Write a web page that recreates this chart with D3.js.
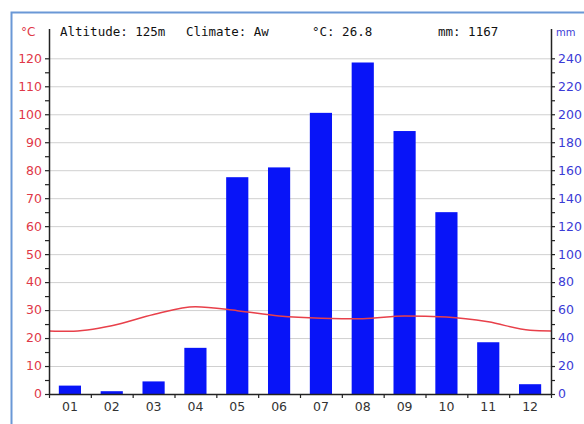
<!DOCTYPE html>
<html lang="en">
<head>
    <meta charset="UTF-8">
    <title>Climate chart</title>
    <script src="https://d3js.org/d3.v7.min.js"></script>
    <style>
        body { margin: 0; padding: 0; background: #fff; }
        svg { display: block; }
    </style>
</head>
<body>
    <div id="chart"></div>
    <script>
        // data
        const months = ["01", "02", "03", "04", "05", "06", "07", "08", "09", "10", "11", "12"];
        const precip = [6, 2, 9, 33, 155, 162, 201, 237, 188, 130, 37, 7];          // mm
        const temp = [22.4, 24.4, 28.4, 31.2, 29.8, 27.9, 27.1, 26.9, 27.9, 27.5, 25.8, 22.8]; // °C
        const tempTicks = [0, 10, 20, 30, 40, 50, 60, 70, 80, 90, 100, 110, 120];
        const mmTicks = [0, 20, 40, 60, 80, 100, 120, 140, 160, 180, 200, 220, 240];
        const header = { altitude: "125m", climate: "Aw", meanTemp: "26.8", totalMm: "1167" };

        const width = 584, height = 424;
        const plotLeft = 49, plotRight = 551, plotBottom = 394, plotTop = 58.3;

        const svg = d3.select("#chart").append("svg")
            .attr("width", width)
            .attr("height", height);

        // frame (blue border of the image)
        svg.append("path")
            .attr("d", `M11.5,${height} L11.5,12.5 L${width},12.5`)
            .attr("fill", "none")
            .attr("stroke", "#6a98d6")
            .attr("stroke-width", 2);

        const x = d3.scaleBand().domain(months).range([plotLeft, plotRight])
            .paddingInner(0.47).paddingOuter(0.235);
        const yT = d3.scaleLinear().domain([0, 120]).range([plotBottom, plotTop]);
        const yP = d3.scaleLinear().domain([0, 240]).range([plotBottom, plotTop]);

        const red = "#e03848", blue = "#3b3bd6";

        // grid lines
        svg.append("g").selectAll("line")
            .data(tempTicks.filter(d => d > 0))
            .join("line")
            .attr("x1", plotLeft).attr("x2", plotRight)
            .attr("y1", d => yT(d) + 0.5).attr("y2", d => yT(d) + 0.5)
            .attr("stroke", "#d0d0d0").attr("stroke-width", 1);

        // bars
        svg.append("g").selectAll("rect")
            .data(precip)
            .join("rect")
            .attr("x", (d, i) => x(months[i]))
            .attr("width", x.bandwidth())
            .attr("y", d => yP(d))
            .attr("height", d => plotBottom - yP(d))
            .attr("fill", "#0814f8");

        // temperature line, wrapped on both ends and clipped to plot area
        svg.append("clipPath").attr("id", "plotclip")
            .append("rect").attr("x", plotLeft).attr("y", 20)
            .attr("width", plotRight - plotLeft).attr("height", plotBottom - 20);
        const step = x.step();
        const pts = temp.map((t, i) => [x(months[i]) + x.bandwidth() / 2, yT(t)]);
        pts.unshift([pts[0][0] - step, yT(temp[11])]);
        pts.push([pts[12][0] + step, yT(temp[0])]);
        svg.append("path")
            .attr("clip-path", "url(#plotclip)")
            .attr("d", d3.line().curve(d3.curveMonotoneX)(pts))
            .attr("fill", "none")
            .attr("stroke", "#e8404a")
            .attr("stroke-width", 1.5);

        // left axis
        const leftAxis = svg.append("g").attr("transform", `translate(${plotLeft},0)`);
        leftAxis.append("line").attr("x1", 0.5).attr("x2", 0.5).attr("y1", 29).attr("y2", plotBottom)
            .attr("stroke", "#222").attr("stroke-width", 1.5);
        leftAxis.selectAll(".tk")
            .data(d3.range(0, 121, 5))
            .join("line")
            .attr("x1", -4).attr("x2", 0)
            .attr("y1", d => yT(d) + 0.5).attr("y2", d => yT(d) + 0.5)
            .attr("stroke", "#222").attr("stroke-width", 1.2);
        leftAxis.selectAll("text")
            .data(tempTicks)
            .join("text")
            .attr("x", -7).attr("y", d => yT(d))
            .attr("dy", "0.35em")
            .attr("text-anchor", "end")
            .attr("fill", red)
            .style("font", "12.5px 'DejaVu Sans', sans-serif")
            .text(d => d);

        // right axis
        const rightAxis = svg.append("g").attr("transform", `translate(${plotRight},0)`);
        rightAxis.append("line").attr("x1", 0.5).attr("x2", 0.5).attr("y1", 29).attr("y2", plotBottom)
            .attr("stroke", "#222").attr("stroke-width", 1.5);
        rightAxis.selectAll(".tk")
            .data(d3.range(0, 241, 10))
            .join("line")
            .attr("x1", 0).attr("x2", 4)
            .attr("y1", d => yP(d) + 0.5).attr("y2", d => yP(d) + 0.5)
            .attr("stroke", "#222").attr("stroke-width", 1.2);
        rightAxis.selectAll("text")
            .data(mmTicks)
            .join("text")
            .attr("x", 7).attr("y", d => yP(d))
            .attr("dy", "0.35em")
            .attr("fill", blue)
            .style("font", "12.5px 'DejaVu Sans', sans-serif")
            .text(d => d);

        // bottom axis
        const xAxis = svg.append("g");
        xAxis.append("line").attr("x1", plotLeft).attr("x2", plotRight + 1)
            .attr("y1", plotBottom + 0.5).attr("y2", plotBottom + 0.5)
            .attr("stroke", "#222").attr("stroke-width", 1.5);
        xAxis.selectAll(".tk")
            .data(d3.range(0, 13))
            .join("line")
            .attr("x1", i => plotLeft + i * step + 0.5).attr("x2", i => plotLeft + i * step + 0.5)
            .attr("y1", plotBottom).attr("y2", plotBottom + 4)
            .attr("stroke", "#222").attr("stroke-width", 1.2);
        xAxis.selectAll("text")
            .data(months)
            .join("text")
            .attr("x", d => x(d) + x.bandwidth() / 2)
            .attr("y", plotBottom + 17)
            .attr("text-anchor", "middle")
            .attr("fill", "#333")
            .style("font", "12.5px 'DejaVu Sans', sans-serif")
            .text(d => d);

        // header texts
        svg.append("text").attr("x", 21).attr("y", 36).attr("fill", red)
            .style("font", "12px 'DejaVu Sans', sans-serif").text("°C");
        svg.append("text").attr("x", 556).attr("y", 36).attr("fill", blue)
            .style("font", "10px 'DejaVu Sans', sans-serif").text("mm");
        const mono = "12.5px 'DejaVu Sans Mono', monospace";
        const headerItems = [
            [60, `Altitude: ${header.altitude}`],
            [186, `Climate: ${header.climate}`],
            [312, `°C: ${header.meanTemp}`],
            [438, `mm: ${header.totalMm}`]
        ];
        svg.append("g").selectAll("text")
            .data(headerItems)
            .join("text")
            .attr("x", d => d[0]).attr("y", 36)
            .attr("fill", "#111")
            .style("font", mono)
            .text(d => d[1]);
    </script>
</body>
</html>
